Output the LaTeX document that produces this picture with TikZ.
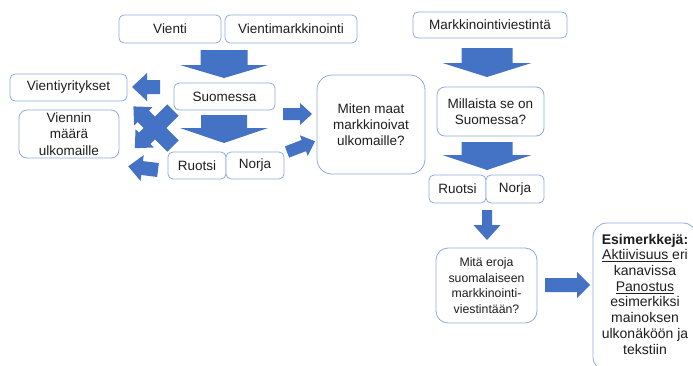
\documentclass[tikz,border=0pt]{standalone}
\usepackage{fontspec}
\setmainfont{Liberation Sans}
\definecolor{boxc}{RGB}{143,170,220}
\definecolor{arrc}{RGB}{68,114,196}
\definecolor{txtc}{RGB}{30,30,30}
% #1,#2 tail centre; #3 angle; #4 length; #5 shaft half width; #6 head half width; #7 head length
\newcommand{\barrow}[7]{%
  \begin{scope}[shift={(#1,#2)},rotate=#3]
    \fill[arrc] (0,-#5) -- ({#4-#7},-#5) -- ({#4-#7},-#6) -- (#4,0) -- ({#4-#7},#6) -- ({#4-#7},#5) -- (0,#5) -- cycle;
  \end{scope}}
\begin{document}
\begin{tikzpicture}[x=1pt,y=-1pt,
  box/.style={draw=boxc, line width=0.8pt, fill=white, rounded corners=5pt,
    align=center, inner sep=0pt, text=txtc, font=\fontsize{13.5}{16.3}\selectfont},
  ]
\useasboundingbox (0,0) rectangle (693,365);
\clip (0,0) rectangle (693,365);
\fill[white] (0,0) rectangle (693,365);

% left part
\node[box, minimum width=102pt, minimum height=28pt] (vienti) at (170,29) {Vienti};
\node[box, minimum width=132pt, minimum height=28pt] (vmark) at (291,29) {Vientimarkkinointi};
\node[box, minimum width=117pt, minimum height=27pt] (vyrit) at (68.5,87.5) {Vientiyritykset};
\node[box, minimum width=100pt, minimum height=48pt, rounded corners=8pt] (viennin) at (69,134) {Viennin\\määrä\\ulkomaille};
\node[box, minimum width=101pt, minimum height=27pt] (suomessa) at (224.5,96.5) {Suomessa};
\node[box, minimum width=58pt, minimum height=27pt] (ruotsi) at (197,165.5) {Ruotsi};
\node[box, minimum width=58pt, minimum height=27pt] (norja) at (255,165.5) {Norja};
\node[box, minimum width=108pt, minimum height=99pt, rounded corners=15pt] (miten) at (371,124.5) {Miten maat\\markkinoivat\\ulkomaille?};

% right part
\node[box, minimum width=154pt, minimum height=26pt] (mviest) at (490,25) {Markkinointiviestintä};
\node[box, minimum width=107pt, minimum height=49pt, rounded corners=8pt] (millaista) at (490.5,111.5) {Millaista se on\\Suomessa?};
\node[box, minimum width=57pt, minimum height=28pt] (ruotsib) at (457.5,189) {Ruotsi};
\node[box, minimum width=58pt, minimum height=28pt] (norjab) at (515,189) {Norja};
\node[box, minimum width=101pt, minimum height=75pt, rounded corners=12pt,
  font=\fontsize{12.3}{15.5}\selectfont] (eroja) at (486.5,285.5)
  {Mitä eroja\\suomalaiseen\\markkinointi-\\viestintään?};
\node[box, minimum width=104pt, minimum height=148pt, rounded corners=14pt,
  font=\fontsize{14}{15.7}\selectfont] (esim) at (645,297)
  {\textbf{Esimerkkejä:}\\\underline{Aktiivisuus\ }eri\\kanavissa\\\underline{Panostus}\\esimerkiksi\\mainoksen\\ulkonäköön ja\\tekstiin\rule[-6pt]{0pt}{0pt}};

% block arrows
\barrow{224}{50}{-90}{28}{23.5}{44}{13}
\barrow{224}{115}{-90}{28}{23}{44}{15}
\barrow{487}{48}{-90}{29}{25.5}{44.5}{14}
\barrow{487}{142}{-90}{28}{25.5}{44.5}{15}
\barrow{487}{210}{-90}{30}{5}{13.5}{15}
\barrow{545}{285}{0}{45}{7}{13}{13}
\barrow{160}{87}{180}{28}{7}{14}{15}
\barrow{283}{114}{0}{29}{6}{11}{12}
\barrow{287}{152}{21}{30}{6}{11}{12}
\barrow{158}{170}{173}{30}{7}{13}{14}
\barrow{173}{146}{135}{56}{8}{13}{14}
\barrow{173}{110}{225}{54}{8}{13}{14}
\end{tikzpicture}
\end{document}
